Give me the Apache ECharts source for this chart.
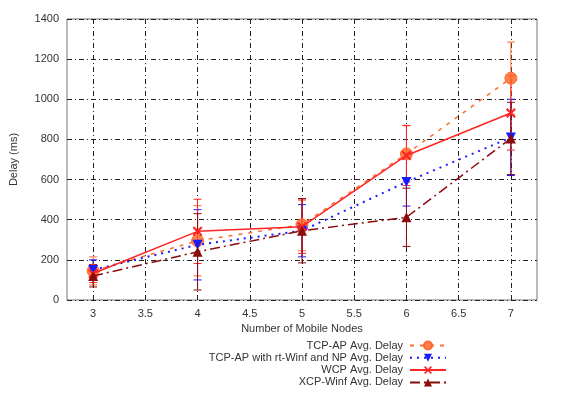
<!DOCTYPE html>
<html>
<head>
<meta charset="utf-8">
<script src="https://cdn.jsdelivr.net/npm/echarts@6/dist/echarts.min.js"></script>
<style>
  html, body { margin: 0; padding: 0; background: #fff; }
  #chart { width: 580px; height: 399px; }
</style>
</head>
<body>
<div id="chart"></div>
<script>
// number of mobile nodes
var nodes = [3, 4, 5, 6, 7];
var xTicks = [3, 3.5, 4, 4.5, 5, 5.5, 6, 6.5, 7];

// average delay (ms) and half-width of the error bars
var tcpAp = [145, 295, 375, 728, 1105];
var tcpApErr = [70, 175, 130, 140, 180];
var rtWinf = [150, 275, 345, 588, 810];
var rtWinfErr = [50, 175, 130, 120, 190];
var wcp = [132, 342, 365, 720, 932];
var wcpErr = [45, 160, 133, 150, 185];
var xcp = [120, 240, 345, 412, 805];
var xcpErr = [55, 190, 160, 145, 180];

var names = [
  "TCP-AP Avg. Delay",
  "TCP-AP with rt-Winf and NP Avg. Delay",
  "WCP Avg. Delay",
  "XCP-Winf Avg. Delay"
];

var font = "Liberation Sans";

function points(vals) {
  return nodes.map(function(n, i) { return [n, vals[i]]; });
}
function bars(vals, errs) {
  return nodes.map(function(n, i) { return [n, vals[i] - errs[i], vals[i] + errs[i]]; });
}

function errorBar(color) {
  return function(params, api) {
    var x = api.value(0);
    var lo = api.coord([x, api.value(1)]);
    var hi = api.coord([x, api.value(2)]);
    var w = 4;
    var st = { stroke: color, lineWidth: 1 };
    return {
      type: "group",
      children: [
        { type: "line", shape: { x1: lo[0], y1: lo[1], x2: hi[0], y2: hi[1] }, style: st },
        { type: "line", shape: { x1: lo[0] - w, y1: lo[1], x2: lo[0] + w, y2: lo[1] }, style: st },
        { type: "line", shape: { x1: hi[0] - w, y1: hi[1], x2: hi[0] + w, y2: hi[1] }, style: st }
      ]
    };
  };
}

function errSeries(name, vals, errs, color) {
  return {
    name: name,
    type: "custom",
    renderItem: errorBar(color),
    encode: { x: 0, y: [1, 2] },
    data: bars(vals, errs),
    z: 1
  };
}

var xPath = "path://M0,1.5L1.5,0L5,3.5L8.5,0L10,1.5L6.5,5L10,8.5L8.5,10L5,6.5L1.5,10L0,8.5L3.5,5Z";

var colors = ["#ff6a2e", "#1a1aff", "#ff2424", "#8b0a0a"];

var legends = names.map(function(n, i) {
  return {
    data: [n],
    right: 133,
    top: 340 + i * 12.3,
    orient: "vertical",
    align: "right",
    itemWidth: 36,
    itemHeight: 10,
    itemGap: 0,
    padding: 0,
    textStyle: { fontFamily: font, fontSize: 11, color: "#333", padding: [0, 2, 0, 0] }
  };
});

var option = {
  animation: false,
  grid: {
    left: 67, right: 43, top: 19, bottom: 99,
    show: true, borderColor: "#777", borderWidth: 1
  },
  legend: legends,
  xAxis: {
    type: "value",
    min: 2.75,
    max: 7.25,
    name: "Number of Mobile Nodes",
    nameLocation: "middle",
    nameGap: 22,
    nameTextStyle: { fontFamily: font, fontSize: 11, color: "#333" },
    axisLine: { show: false },
    axisTick: { show: false, customValues: xTicks },
    axisLabel: { customValues: xTicks, fontFamily: font, fontSize: 11, color: "#333", margin: 8 },
    splitLine: { show: true, lineStyle: { color: "#222", width: 1, type: [5, 3, 1, 3] } }
  },
  yAxis: {
    type: "value",
    min: 0,
    max: 1400,
    interval: 200,
    name: "Delay (ms)",
    nameLocation: "middle",
    nameGap: 48,
    nameTextStyle: { fontFamily: font, fontSize: 11, color: "#333" },
    axisLine: { show: false },
    axisTick: { show: false },
    axisLabel: {
      fontFamily: font, fontSize: 11, color: "#333", margin: 8,
      formatter: function(v) { return String(v); }
    },
    splitLine: { show: true, lineStyle: { color: "#222", width: 1, type: [5, 3, 1, 3] } }
  },
  series: [
    errSeries("e0", tcpAp, tcpApErr, colors[0]),
    errSeries("e1", rtWinf, rtWinfErr, colors[1]),
    errSeries("e2", wcp, wcpErr, colors[2]),
    errSeries("e3", xcp, xcpErr, colors[3]),
    {
      name: names[0],
      type: "line",
      data: points(tcpAp),
      symbol: "circle",
      symbolSize: 12,
      itemStyle: { color: "rgba(255,106,46,0.85)", borderColor: "#ff6a2e", borderWidth: 1 },
      lineStyle: { color: colors[0], width: 1.5, type: [4, 6] },
      z: 3
    },
    {
      name: names[1],
      type: "line",
      data: points(rtWinf),
      symbol: "triangle",
      symbolRotate: 180,
      symbolSize: 10,
      itemStyle: { color: colors[1] },
      lineStyle: { color: colors[1], width: 2, type: [2, 5] },
      z: 4
    },
    {
      name: names[2],
      type: "line",
      data: points(wcp),
      symbol: xPath,
      symbolSize: 10,
      itemStyle: { color: colors[2] },
      lineStyle: { color: colors[2], width: 1.5, type: "solid" },
      z: 5
    },
    {
      name: names[3],
      type: "line",
      data: points(xcp),
      symbol: "triangle",
      symbolSize: 10,
      itemStyle: { color: colors[3] },
      lineStyle: { color: colors[3], width: 1.5, type: [10, 4, 2, 4] },
      z: 6
    }
  ]
};

var myChart = echarts.init(document.getElementById("chart"));
myChart.setOption(option);
</script>
</body>
</html>
